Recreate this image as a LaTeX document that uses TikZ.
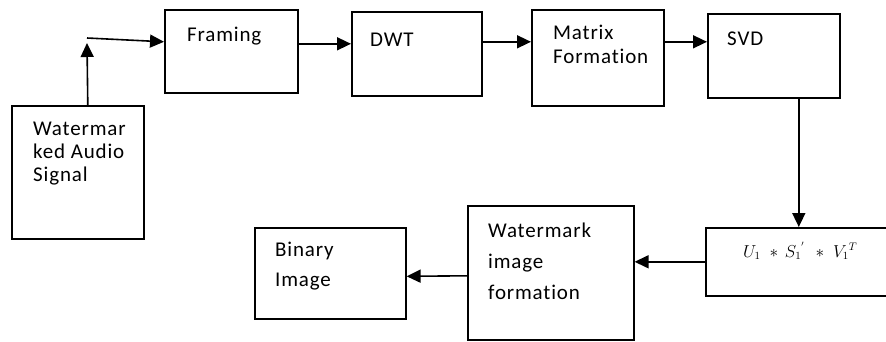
\documentclass[tikz,border=0pt]{standalone}
\usepackage{fontspec}
\setmainfont{Carlito}[LetterSpace=4, Ligatures=NoCommon]
\usetikzlibrary{arrows.meta}

\tikzset{
  box/.style={draw, line width=1.6pt, inner sep=0, anchor=north west},
  lbl/.style={inner sep=0, anchor=north west, align=left, font=\fontsize{21}{24}\selectfont},
  arr/.style={line width=1.6pt, -{Triangle[length=14pt,width=13pt]}}
}

\begin{document}
\begin{tikzpicture}[x=1pt, y=-1pt]
  \useasboundingbox (0,0) rectangle (886,341);
  % node
  \node[box, minimum width=132, minimum height=133] (audio) at (11,105) {};
  \node[box, minimum width=133, minimum height=83] (framing) at (164,9) {};
  \node[box, minimum width=130, minimum height=84] (dwt) at (351,11) {};
  \node[box, minimum width=132, minimum height=96] (matrix) at (531,9) {};
  \node[box, minimum width=132, minimum height=84] (svd) at (707,13) {};
  \node[box, minimum width=190, minimum height=68] (usv) at (705,227) {};
  \node[box, minimum width=166, minimum height=134] (wmk) at (467,205) {};
  \node[box, minimum width=151, minimum height=91] (binary) at (254,227) {};
  % text
  \node[lbl, font=\fontsize{21}{23}\selectfont] (audiotxt) at ([shift={(22,17)}]audio.north west) {Watermar\\ked Audio\\Signal};
  \node[lbl] (framingtxt) at ([shift={(23,18)}]framing.north west) {Framing};
  \node[lbl] (dwttxt) at ([shift={(19,22)}]dwt.north west) {DWT};
  \node[lbl] (matrixtxt) at ([shift={(22,16)}]matrix.north west) {Matrix\\Formation};
  \node[lbl] (svdtxt) at ([shift={(20,19)}]svd.north west) {SVD};
  \node[inner sep=0, anchor=base west, font=\fontsize{16}{18}\selectfont] (usvtxt) at ([shift={(38,30)}]usv.north west)
    {$U_1\hspace{5pt}*\hspace{3pt}S_1{}^{'}\hspace{7pt}*\hspace{5pt}V_1{}^{T}$};
  \node[lbl, font=\fontsize{21}{31}\selectfont] (wmktxt) at ([shift={(21,18)}]wmk.north west) {Watermark\\image\\formation};
  \node[lbl, font=\fontsize{21}{30}\selectfont] (binarytxt) at ([shift={(21,15)}]binary.north west) {Binary\\Image};
  % lines
  \coordinate (split) at (87,38);
  \draw[arr] ([xshift=10]audio.north) -- ([yshift=-5]split);
  \draw[arr] (split) -- ([yshift=9.5]framing.west);
  \draw[arr] ([yshift=7.5]framing.east) -- ([yshift=10]dwt.west);
  \draw[arr] ([yshift=12]dwt.east) -- ([yshift=16]matrix.west);
  \draw[arr] ([yshift=16]matrix.east) -- ([yshift=14]svd.west);
  \draw[arr] ([xshift=25]svd.south) -- ([xshift=-2]usv.north);
  \draw[arr] (usv.west) -- (usv.west -| wmk.east);
  \draw[arr] ([yshift=-3]wmk.west) -- ([yshift=-3]binary.east);
\end{tikzpicture}
\end{document}
